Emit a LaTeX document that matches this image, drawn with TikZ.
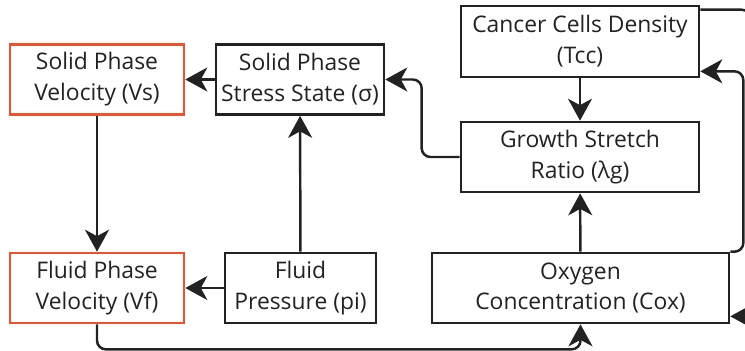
\documentclass[tikz,border=0pt]{standalone}
\usepackage{fontspec}
\setmainfont{Open Sans}
\usepackage{xcolor}
\usepackage{tikz}
\usetikzlibrary{arrows.meta,positioning,calc}
\definecolor{ink}{HTML}{222222}
\definecolor{hot}{HTML}{F0502C}
\tikzset{
  box/.style={draw=ink,line width=1.5pt,align=center,text=ink,font=\fontsize{13}{17.6}\selectfont,minimum height=1.4cm,inner sep=2pt},
  vel/.style={box,draw=hot},
  arr/.style={-{Stealth[length=4.4mm,width=4.8mm,inset=1.3mm]},line width=1.4pt,draw=ink},
  turn/.style={arr,rounded corners=5pt},
}
\begin{document}
\begin{tikzpicture}
\useasboundingbox (0,0) rectangle (14.9,7);
\clip (0,0) rectangle (14.9,7);
\node[vel,minimum width=3.48cm] (vs) at (1.94,5.41) {Solid Phase\\Velocity (Vs)};
\node[box,minimum width=3.36cm] (sig) at (6.0,5.41) {Solid Phase\\Stress State (σ)};
\node[box,minimum width=4.76cm,minimum height=1.42cm] (tcc) at (11.6,6.17) {Cancer Cells Density\\(Tcc)};
\node[box,minimum width=4.76cm] (lg) at (11.6,3.86) {Growth Stretch\\Ratio (λg)};
\node[vel,minimum width=3.48cm] (vf) at (1.94,1.24) {Fluid Phase\\Velocity (Vf)};
\node[box,minimum width=3.02cm] (pi) at (6.01,1.24) {Fluid\\Pressure (pi)};
\node[box,minimum width=5.94cm] (cox) at (11.61,1.24) {Oxygen\\Concentration (Cox)};
\draw[arr] (sig) -- (vs);
\draw[arr] (pi) -- (vf);
\draw[arr] (vs) -- (vf);
\draw[arr] (pi) -- (sig);
\draw[arr] (tcc) -- (lg);
\draw[arr] (cox) -- (lg);
\draw[turn] (lg.west) -- ++(-0.76,0) |- (sig.east);
\draw[turn] (vf.south) -- ++(0,-0.5) -| (cox.south);
\draw[turn] (cox.north east) -- ++(0.26,0) |- ($(tcc.south east)+(0,0.14)$);
\draw[turn] ($(tcc.north east)+(0,-0.1)$) -- ++(1,0) |- ($(cox.south east)+(0,0.16)$);
\end{tikzpicture}
\end{document}
